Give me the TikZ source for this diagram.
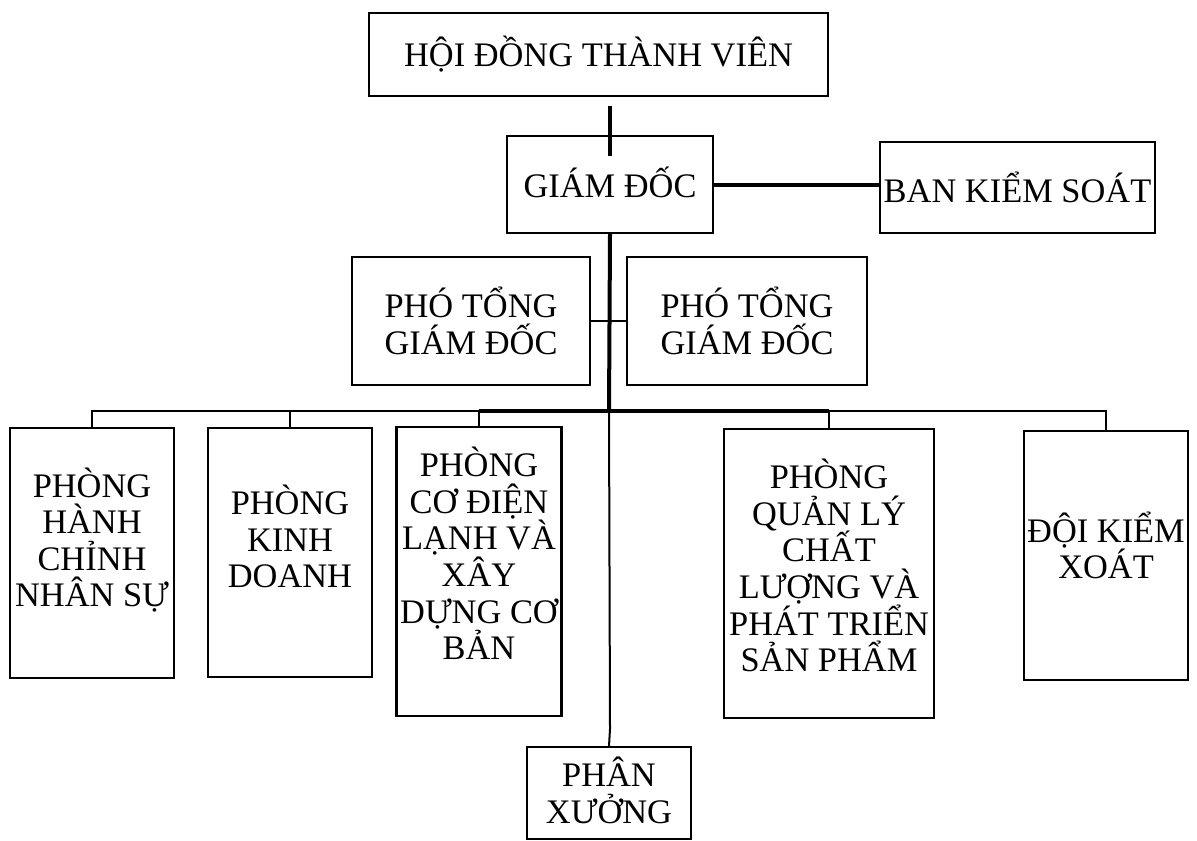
\documentclass[tikz,border=0pt]{standalone}
\usepackage{fontspec}
\setmainfont{Liberation Serif}
\begin{document}
\begin{tikzpicture}[x=0.5pt,y=-0.5pt,
  box/.style={draw,line width=1.1pt,rectangle,inner sep=0pt,align=center,
    font=\fontsize{17.2}{18.3}\selectfont},
  lbl/.style={inner sep=0pt,align=center,font=\fontsize{17.2}{18.3}\selectfont},
  thick line/.style={line width=2pt},
  thin line/.style={line width=1pt}]
\useasboundingbox (0,0) rectangle (1197,840);
% nodes
\node[box,minimum width=459*0.5pt,minimum height=83*0.5pt] (hdtv) at (598.5,54.5) {HỘI ĐỒNG THÀNH VIÊN};
\node[box,minimum width=206*0.5pt,minimum height=97*0.5pt] (gd) at (610,184.5) {};
\node[lbl] (gdt) at ([yshift=1pt]gd.center) {GIÁM ĐỐC};
\node[box,minimum width=275*0.5pt,minimum height=91*0.5pt] (bks) at (1017.5,187.5) {BAN KIỂM SOÁT};
\node[box,minimum width=238*0.5pt,minimum height=128*0.5pt] (ptl) at (471,321) {PHÓ TỔNG\\GIÁM ĐỐC};
\node[box,minimum width=240*0.5pt,minimum height=128*0.5pt] (ptr) at (747,321) {PHÓ TỔNG\\GIÁM ĐỐC};
\node[box,minimum width=164*0.5pt,minimum height=250*0.5pt] (b1) at (92,553) {};
\node[lbl] (b1t) at ([yshift=6.5pt]b1.center) {PHÒNG\\HÀNH\\CHỈNH\\NHÂN SỰ};
\node[box,minimum width=164*0.5pt,minimum height=249*0.5pt] (b2) at (290,552.5) {};
\node[lbl] (b2t) at ([yshift=8pt]b2.center) {PHÒNG\\KINH\\DOANH};
\node[box,minimum width=165*0.5pt,minimum height=289*0.5pt] (b3) at (479,571.5) {};
\node[lbl] (b3t) at ([yshift=9pt]b3.center) {PHÒNG\\CƠ ĐIỆN\\LẠNH VÀ\\XÂY\\DỰNG CƠ\\BẢN};
\node[box,minimum width=210*0.5pt,minimum height=289*0.5pt] (b4) at (829,573.5) {};
\node[lbl] (b4t) at ([yshift=4pt]b4.center) {PHÒNG\\QUẢN LÝ\\CHẤT\\LƯỢNG VÀ\\PHÁT TRIỂN\\SẢN PHẨM};
\node[box,minimum width=164*0.5pt,minimum height=249*0.5pt] (b5) at (1106,555.5) {};
\node[lbl] (b5t) at ([yshift=5pt]b5.center) {ĐỘI KIỂM\\XOÁT};
\node[box,minimum width=164*0.5pt,minimum height=92*0.5pt] (px) at (609,793) {};
\node[lbl] (pxt) at ([yshift=1.2pt]px.center) {PHÂN\\XƯỞNG};
% coordinates
\coordinate (bus) at (609,411);
\coordinate (jog) at (610,729);
% connectors
\draw[thick line] ([yshift=-9*0.5pt]hdtv.south -| gd.north) -- ([yshift=-21*0.5pt]gd.north);
\draw[thick line] (gd.east) -- (gd.east -| bks.west);
\draw[thick line] (gd.south) -- (bus);
\draw[thin line] (ptl.east) -- (ptr.west);
\draw[thin line] (bus) -- (b1.north |- bus) -- (b1.north);
\draw[thin line] (b2.north |- bus) -- (b2.north);
\draw[thick line] (bus) -- (b3.north |- bus);
\draw[thin line] (b3.north |- bus) -- (b3.north);
\draw[thick line] (bus) -- (b4.north |- bus);
\draw[thin line] (b4.north |- bus) -- (b4.north);
\draw[thin line] (b4.north |- bus) -- (b5.north |- bus) -- (b5.north);
\draw[thin line] (bus) -- (jog) -- (px.north);
\end{tikzpicture}
\end{document}
